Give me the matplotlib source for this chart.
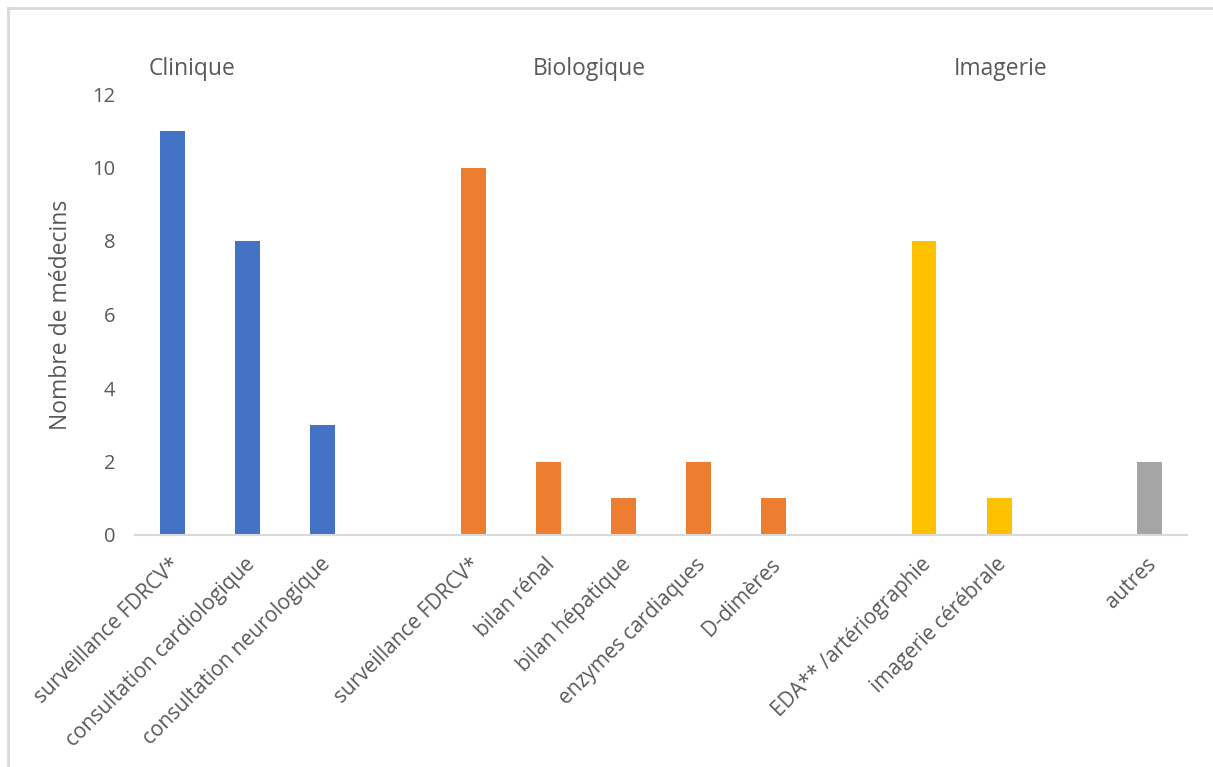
import matplotlib
matplotlib.use("Agg")
import matplotlib.pyplot as plt
from matplotlib.lines import Line2D
from matplotlib.transforms import ScaledTranslation

categories = ["surveillance FDRCV*", "consultation cardiologique", "consultation neurologique", "",
              "surveillance FDRCV*", "bilan rénal", "bilan hépatique", "enzymes cardiaques", "D-dimères", "",
              "EDA** /artériographie", "imagerie cérébrale", "", "autres"]
values = [11, 8, 3, 0, 10, 2, 1, 2, 1, 0, 8, 1, 0, 2]
groups = ["Clinique", "Clinique", "Clinique", "",
          "Biologique", "Biologique", "Biologique", "Biologique", "Biologique", "",
          "Imagerie", "Imagerie", "", "Autres"]
group_colors = {"Clinique": "#4472C4", "Biologique": "#ED7D31", "Imagerie": "#FFC000", "Autres": "#A5A5A5", "": "none"}
group_titles = ["Clinique", "Biologique", "Imagerie"]
group_title_x = [0.26, 5.54, 11.02]

plt.rcParams['font.family'] = ['Open Sans', 'DejaVu Sans']
text_color = "#595959"

fig = plt.figure(figsize=(12.13, 7.67), dpi=100)
ax = fig.add_axes([135/1213, 1-535/767, (1187-135)/1213, (535-94)/767])

x = list(range(len(categories)))
colors = [group_colors[g] for g in groups]
ax.bar(x, values, width=0.33, color=colors)

ax.set_xlim(-0.5, len(categories)-0.5)
ax.set_ylim(0, 12)
ax.set_yticks(range(0, 13, 2))
ax.set_xticks(x)
ax.set_xticklabels(categories, rotation=45, ha='right', va='center', rotation_mode='anchor', fontsize=15)
for s in ['top', 'right', 'left']:
    ax.spines[s].set_visible(False)
ax.spines['bottom'].set_color('#D9D9D9')
ax.spines['bottom'].set_linewidth(1.5)
ax.tick_params(axis='both', length=0, colors=text_color)
ax.tick_params(axis='y', pad=14, labelsize=14.5)
ax.tick_params(axis='x', pad=19)
ax.set_ylabel("Nombre de médecins", fontsize=16.5, color=text_color, labelpad=14)

offset = ScaledTranslation(4/100, 0, fig.dpi_scale_trans)
for lab in ax.get_xticklabels():
    lab.set_transform(lab.get_transform() + offset)

for t, gx in zip(group_titles, group_title_x):
    ax.text(gx, 12.68, t, ha='center', va='center', fontsize=16.5, color=text_color)

# chart area border (top and left)
fig.add_artist(Line2D([7.5/1213, 1.0], [1-7.5/767, 1-7.5/767], color='#D9D9D9', lw=2, transform=fig.transFigure))
fig.add_artist(Line2D([7.5/1213, 7.5/1213], [1-7.5/767, 0], color='#D9D9D9', lw=2, transform=fig.transFigure))

fig.savefig("out.png", dpi=100)
